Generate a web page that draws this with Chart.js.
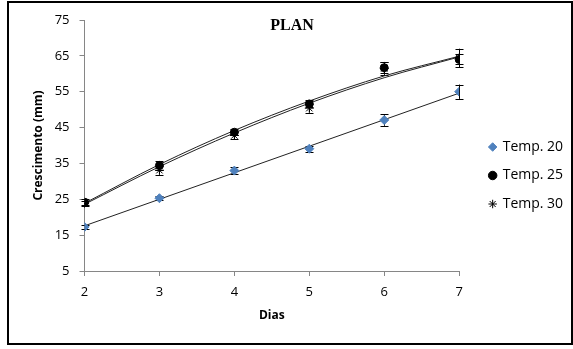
<!DOCTYPE html>
<html>
<head>
<meta charset="utf-8">
<script src="https://cdn.jsdelivr.net/npm/chart.js@4.4.0/dist/chart.umd.min.js"></script>
<style>
  html, body { margin: 0; padding: 0; background: #fff; }
  #wrap { position: relative; width: 573px; height: 349px; }
  #frame { position: absolute; left: 7px; top: 1px; width: 562px; height: 340px; border: 2px solid #000; pointer-events: none; }
</style>
</head>
<body>
<div id="wrap">
  <canvas id="c" width="573" height="349"></canvas>
  <div id="frame"></div>
</div>
<script>
// ---- data ----
const days = [2, 3, 4, 5, 6, 7];
const temp20 = [17.3, 25.3, 33.0, 39.1, 47.1, 55.0];
const temp25 = [24.2, 34.4, 43.7, 51.6, 61.7, 64.0];
const temp30 = [23.8, 33.1, 42.8, 50.4, 61.5, 64.4];
const err20 = [0.5, 0.6, 0.9, 0.9, 1.6, 2.0];
const err25 = [0.8, 1.3, 0.8, 1.0, 1.5, 1.4];
const err30 = [0.8, 1.2, 1.0, 1.2, 1.8, 2.6];
// trendlines at each day
const trend20 = [17.6, 25.0, 32.4, 39.8, 47.2, 54.6];
const trend25 = [23.9, 34.7, 44.2, 52.4, 59.4, 64.9];
const trend30 = [23.6, 34.1, 43.5, 51.8, 58.9, 64.7];
const yTicks = [5, 15, 25, 35, 45, 55, 65, 75];
const seriesNames = ['Temp. 20', 'Temp. 25', 'Temp. 30'];

const pts = (ys) => days.map((d, i) => ({ x: d, y: ys[i] }));
const FONT = "'Open Sans', 'DejaVu Sans', sans-serif";

const errorBars = {
  id: 'errorBars',
  beforeDatasetsDraw(chart) {
    const { ctx } = chart;
    const ys = chart.scales.y, xs = chart.scales.x;
    ctx.save();
    ctx.strokeStyle = '#000';
    ctx.lineWidth = 1;
    chart.data.datasets.forEach((ds) => {
      if (!ds.err) return;
      ds.data.forEach((p, i) => {
        const x = Math.round(xs.getPixelForValue(p.x)) + 0.5;
        const y1 = ys.getPixelForValue(p.y + ds.err[i]);
        const y2 = ys.getPixelForValue(p.y - ds.err[i]);
        ctx.beginPath();
        ctx.moveTo(x, y1); ctx.lineTo(x, y2);
        ctx.moveTo(x - 4, Math.round(y1) + 0.5); ctx.lineTo(x + 4, Math.round(y1) + 0.5);
        ctx.moveTo(x - 4, Math.round(y2) + 0.5); ctx.lineTo(x + 4, Math.round(y2) + 0.5);
        ctx.stroke();
      });
    });
    ctx.restore();
  }
};

const titlePlugin = {
  id: 'titleOverlay',
  afterDraw(chart) {
    const { ctx } = chart;
    ctx.save();
    ctx.font = "bold 16px 'Liberation Serif', 'Times New Roman', serif";
    ctx.fillStyle = '#000';
    ctx.textAlign = 'center';
    ctx.textBaseline = 'middle';
    ctx.fillText('PLAN', 292, 26);
    ctx.restore();
  }
};

new Chart(document.getElementById('c'), {
  type: 'scatter',
  data: {
    datasets: [
      { label: seriesNames[0], data: pts(temp20), err: err20, pointStyle: 'rectRot', pointRadius: 4.5,
        backgroundColor: '#4F81BD', borderColor: '#4F81BD', borderWidth: 1, showLine: false, order: 1 },
      { label: seriesNames[1], data: pts(temp25), err: err25, pointStyle: 'circle', pointRadius: 4,
        backgroundColor: '#000', borderColor: '#000', borderWidth: 1, showLine: false, order: 1 },
      { label: seriesNames[2], data: pts(temp30), err: err30, pointStyle: 'star', pointRadius: 4.5,
        backgroundColor: '#000', borderColor: '#000', borderWidth: 1, showLine: false, order: 1 },
      { label: 'trend20', data: pts(trend20), showLine: true, pointRadius: 0, borderColor: '#222', borderWidth: 1, cubicInterpolationMode: 'monotone', order: 2 },
      { label: 'trend25', data: pts(trend25), showLine: true, pointRadius: 0, borderColor: '#222', borderWidth: 1, cubicInterpolationMode: 'monotone', order: 2 },
      { label: 'trend30', data: pts(trend30), showLine: true, pointRadius: 0, borderColor: '#222', borderWidth: 1, cubicInterpolationMode: 'monotone', order: 2 }
    ]
  },
  options: {
    responsive: false,
    animation: false,
    layout: { padding: { left: 31, top: 20, right: 9, bottom: 18 } },
    plugins: {
      tooltip: { enabled: false },
      title: { display: false },
      legend: {
        position: 'right',
        labels: {
          filter: (item) => item.datasetIndex < 3,
          usePointStyle: true,
          boxWidth: 6, boxHeight: 6,
          padding: 14.5,
          color: '#000',
          font: { family: FONT, size: 14 }
        }
      }
    },
    scales: {
      x: {
        type: 'linear', min: 2, max: 7,
        afterFit: (s) => { s.height = 60; },
        ticks: { stepSize: 1, color: '#000', padding: 8, font: { family: FONT, size: 13 } },
        grid: { drawOnChartArea: false, drawTicks: true, tickLength: 5, color: '#868686' },
        border: { color: '#868686', width: 1 },
        title: { display: true, text: 'Dias', color: '#000', padding: { top: 0, bottom: 8 }, font: { family: FONT, size: 12, weight: 'bold' } }
      },
      y: {
        min: 5, max: 75,
        afterBuildTicks: (s) => { s.ticks = yTicks.map(v => ({ value: v })); },
        afterFit: (s) => { s.width = 53.5; },
        ticks: { color: '#000', padding: 10, font: { family: FONT, size: 13 } },
        grid: { drawOnChartArea: false, drawTicks: true, tickLength: 5, color: '#868686' },
        border: { color: '#868686', width: 1 },
        title: { display: true, text: 'Crescimento (mm)', color: '#000', padding: 0, font: { family: FONT, size: 12, weight: 'bold' } }
      },
      gap: {
        type: 'linear', position: 'right', display: true,
        afterFit: (s) => { s.width = 16; },
        ticks: { display: false },
        grid: { display: false, drawTicks: false },
        border: { display: false }
      }
    }
  },
  plugins: [errorBars, titlePlugin]
});
</script>
</body>
</html>
